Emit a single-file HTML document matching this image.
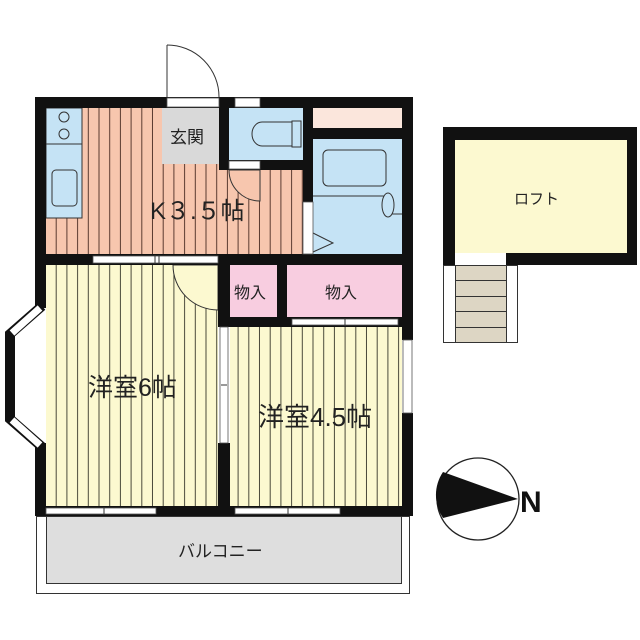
<!DOCTYPE html>
<html><head><meta charset="utf-8"><style>
html,body{margin:0;padding:0;background:#fff;width:640px;height:640px;overflow:hidden}
text{font-family:"Liberation Sans","Noto Sans CJK JP",sans-serif;fill:#222}
</style></head><body>
<svg width="640" height="640" viewBox="0 0 640 640" xmlns="http://www.w3.org/2000/svg">
<defs>
<pattern id="ps" x="46" y="0" width="10.7" height="10" patternUnits="userSpaceOnUse">
<rect width="10.7" height="10" fill="#f7c6ae"/><rect x="9.7" width="1.2" height="10" fill="#5a3a30"/></pattern>
<pattern id="py" x="46" y="0" width="10.7" height="10" patternUnits="userSpaceOnUse">
<rect width="10.7" height="10" fill="#fcf9d0"/><rect x="9.7" width="1.2" height="10" fill="#4a4a3a"/></pattern>
</defs>
<!-- kitchen -->
<rect x="46" y="108" width="257" height="146" fill="url(#ps)"/>
<rect x="46" y="108" width="36" height="110" fill="#c5e3f5" stroke="#333" stroke-width="1"/>
<line x1="46" y1="144" x2="82" y2="144" stroke="#333"/>
<circle cx="64" cy="117" r="5" fill="none" stroke="#333"/><circle cx="64" cy="134" r="5" fill="none" stroke="#333"/>
<rect x="52" y="170" width="25" height="36" rx="4" fill="none" stroke="#333"/>
<rect x="162" y="108" width="57" height="56" fill="#d9d9d9"/>
<!-- toilet -->
<rect x="229" y="108" width="74" height="52" fill="#c5e3f5"/>
<path d="M292,122 H262 A10,12 0 0 0 262,146 H292 Z" fill="none" stroke="#333"/>
<rect x="292" y="121" width="9" height="26" fill="none" stroke="#333"/>
<!-- bath -->
<rect x="313" y="108" width="89" height="20" fill="#fbe6dc"/>
<rect x="313" y="139" width="89" height="115" fill="#c5e3f5"/>
<rect x="323" y="150" width="63" height="36" rx="5" fill="none" stroke="#333"/>
<polyline points="313,196 390,196" fill="none" stroke="#333"/>
<polyline points="385,214 402,214" fill="none" stroke="#333"/>
<ellipse cx="388" cy="205" rx="6" ry="12" fill="#c5e3f5" stroke="#333"/>
<polyline points="313,233 333,243 313,252" fill="none" stroke="#333"/>
<!-- rooms -->
<rect x="46" y="265" width="172" height="241" fill="url(#py)"/>
<rect x="230" y="327" width="172" height="179" fill="url(#py)"/>
<rect x="229" y="265" width="48" height="52" fill="#f8cde0"/>
<rect x="287" y="265" width="115" height="52" fill="#f8cde0"/>
<path d="M173,265 A45,45 0 0 0 218,310 V265 Z" fill="#fcf9d0" stroke="#333"/>
<path d="M229,170 A31,31 0 0 0 260,201 V170 Z" fill="#f7c6ae" stroke="#333"/>
<!-- walls -->
<g fill="#111">
<rect x="35" y="97" width="378" height="11"/>
<rect x="35" y="97" width="11" height="211"/>
<rect x="35" y="443" width="11" height="73"/>
<rect x="402" y="97" width="11" height="243"/>
<rect x="402" y="413" width="11" height="103"/>
<rect x="35" y="254" width="378" height="11"/>
<rect x="219" y="97" width="10" height="73"/>
<rect x="229" y="160" width="84" height="10"/>
<rect x="303" y="97" width="10" height="105"/>
<rect x="313" y="128" width="89" height="11"/>
<rect x="218" y="265" width="12" height="62"/>
<rect x="218" y="443" width="12" height="70"/>
<rect x="277" y="265" width="10" height="52"/>
<rect x="218" y="317" width="184" height="10"/>
<rect x="35" y="506" width="378" height="10"/>
</g>
<!-- openings -->
<g fill="#fff" stroke="#555" stroke-width="0.8">
<rect x="167" y="98" width="52" height="9"/>
<rect x="235" y="98" width="25" height="9"/>
<rect x="229" y="161" width="31" height="8"/>
<rect x="303" y="202" width="10" height="52"/>
<rect x="93" y="256" width="125" height="7"/>
<rect x="292" y="319" width="106" height="6"/>
<rect x="220" y="327" width="8" height="116"/>
<rect x="403" y="340" width="9" height="73"/>
<rect x="46" y="508" width="110" height="6"/>
<rect x="235" y="508" width="105" height="6"/>
</g>
<g stroke="#333" stroke-width="1"><line x1="155" y1="255" x2="155" y2="264"/><line x1="159" y1="255" x2="159" y2="264"/>
<line x1="345" y1="318" x2="345" y2="326"/><line x1="104" y1="507" x2="104" y2="515"/><line x1="288" y1="507" x2="288" y2="515"/>
<line x1="221" y1="385" x2="227" y2="385"/></g>
<!-- entry door -->
<line x1="167" y1="45" x2="167" y2="97" stroke="#333"/>
<path d="M167,45 A52,52 0 0 1 219,97" fill="none" stroke="#333"/>
<!-- bay window -->
<polyline points="42,306 10,334 10,419 42,447" fill="none" stroke="#111" stroke-width="10" stroke-linejoin="miter"/>
<line x1="40" y1="308" x2="12" y2="333" stroke="#fff" stroke-width="7"/>
<line x1="40" y1="445" x2="12" y2="420" stroke="#fff" stroke-width="7"/>
<!-- balcony -->
<rect x="36.5" y="516.5" width="373" height="77" fill="#fff" stroke="#333"/>
<rect x="46.5" y="516.5" width="355" height="67" fill="#dedede" stroke="#333"/>
<!-- loft -->
<rect x="443" y="127" width="194" height="138" fill="#111"/>
<rect x="455" y="140" width="172" height="113" fill="#fcf9d0"/>
<rect x="455" y="253" width="51" height="12" fill="#fff"/>
<rect x="443.5" y="265.5" width="12" height="77" fill="#fff" stroke="#333"/>
<rect x="506.5" y="265.5" width="11" height="77" fill="#fff" stroke="#333"/>
<g fill="#ddd6c4" stroke="#333"><rect x="455.5" y="265.5" width="51" height="15"/><rect x="455.5" y="280.5" width="51" height="16"/><rect x="455.5" y="296.5" width="51" height="15"/><rect x="455.5" y="311.5" width="51" height="16"/><rect x="455.5" y="327.5" width="51" height="15"/></g>
<!-- compass -->
<circle cx="478" cy="499" r="41" fill="#fff" stroke="#222" stroke-width="1.3"/>
<path d="M443,472 L518,499 L443,518 A41,41 0 0 1 443,472 Z" fill="#111"/>
<text x="520" y="512" font-size="30" font-weight="bold" style="fill:#111">N</text>
<!-- labels -->
<text x="170" y="143" font-size="17">玄関</text>
<text x="150" y="219" font-size="24">K３.５帖</text>
<text x="234" y="298" font-size="16">物入</text>
<text x="325" y="298" font-size="16">物入</text>
<text x="88" y="396" font-size="25">洋室6帖</text>
<text x="258" y="426" font-size="26">洋室4.5帖</text>
<text x="178" y="557" font-size="17">バルコニー</text>
<text x="514" y="204" font-size="15">ロフト</text>
</svg>
</body></html>
